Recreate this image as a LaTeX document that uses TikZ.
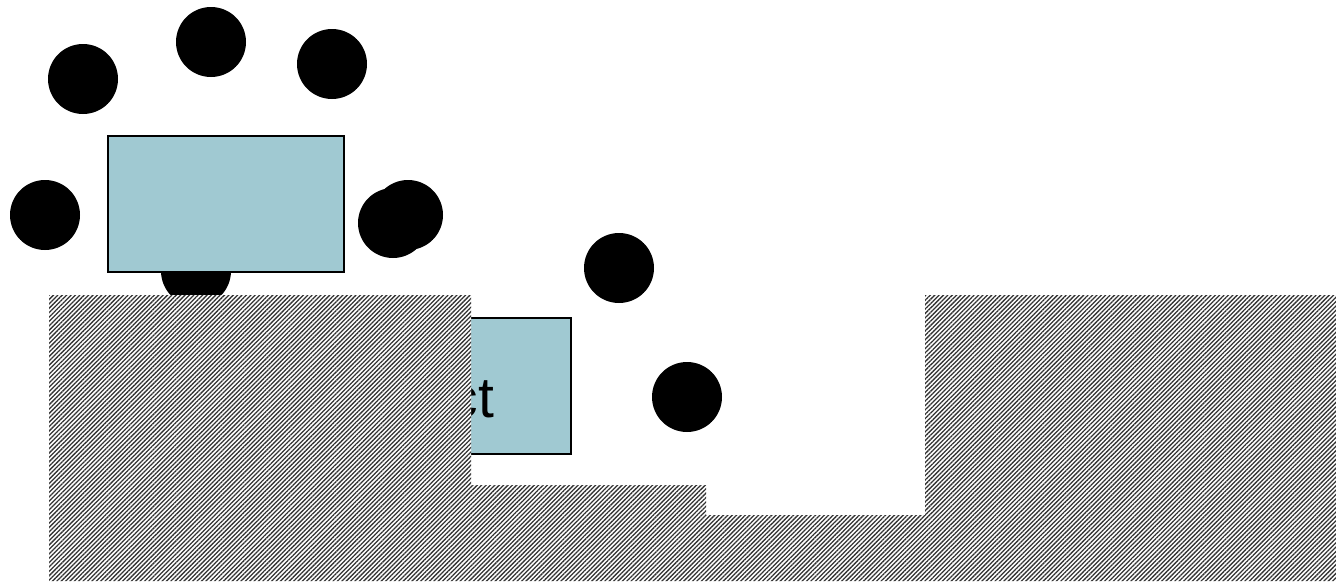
\documentclass[tikz,border=0pt]{standalone}
\usepackage{fontspec}
\setmainfont{Liberation Sans}
\usetikzlibrary{patterns.meta}
\definecolor{boxblue}{RGB}{160,201,210}
\tikzset{
  dot/.style={circle, fill=black, inner sep=0pt, minimum size=70pt},
  bluebox/.style={rectangle, draw=black, line width=1.2pt, fill=boxblue, inner sep=0pt},
  hatch/.style={preaction={fill=white}, pattern={Lines[angle=45,distance=3.1pt,line width=1.3pt]}, pattern color=black!80}
}
\begin{document}
\begin{tikzpicture}[x=1pt,y=-1pt]
\useasboundingbox (0,0) rectangle (1336,581);
% circles
\node[dot] (c1) at (83,79) {};
\node[dot] (c2) at (211,42) {};
\node[dot] (c3) at (332,64) {};
\node[dot] (c4) at (45,215) {};
\node[dot] (c5) at (408,215) {};
\node[dot] (c6) at (393,223) {};
\node[dot] (c7) at (196,271) {};
\node[dot] (c8) at (619,268) {};
\node[dot] (c9) at (687,397) {};
% boxes
\node[bluebox, minimum width=236pt, minimum height=136pt] (b1) at (226,204) {};
\node[bluebox, minimum width=171pt, minimum height=136pt] (b2) at (485.5,386) {};
\node[anchor=base east, inner sep=0pt, font=\fontsize{57}{60}\selectfont] (t2) at (494.5,417) {ct};
% hatched ground
\path[hatch] (49,295) -- (471,295) -- (471,485) -- (706,485) -- (706,515) -- (925,515) -- (925,295) -- (1336,295) -- (1336,581) -- (49,581) -- cycle;
\end{tikzpicture}
\end{document}
